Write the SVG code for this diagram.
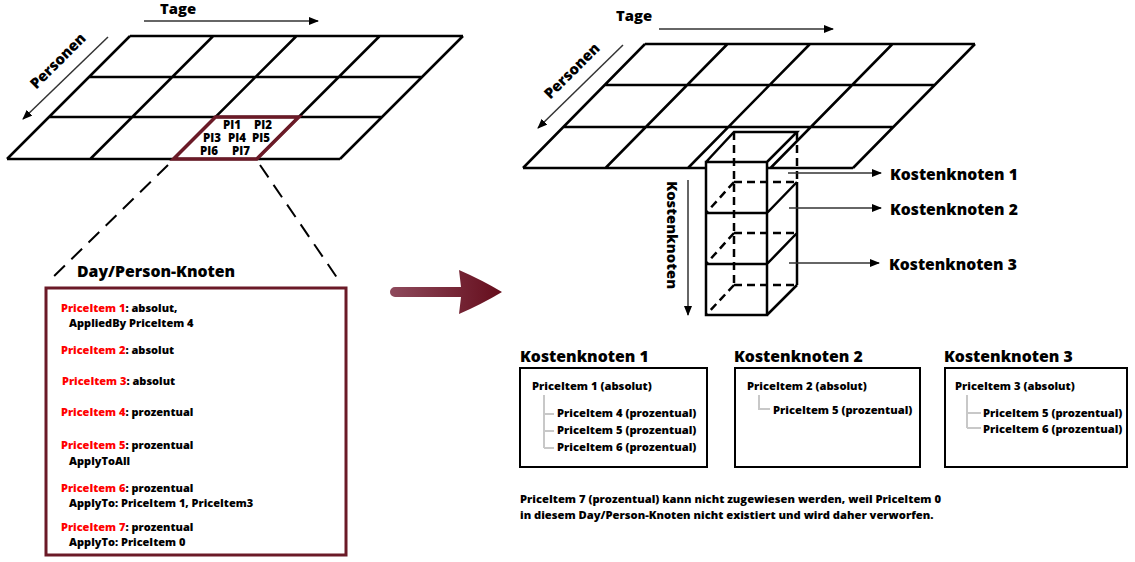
<svg xmlns="http://www.w3.org/2000/svg" width="1135" height="562" viewBox="0 0 1135 562">
<defs>
<style>
text{font-family:"Open Sans","DejaVu Sans",sans-serif;font-weight:800;fill:#000}
.grid{fill:none;stroke:#000;stroke-width:2.5;stroke-linejoin:miter}
.ax{fill:none;stroke:#333;stroke-width:1.5}
.lbl{font-size:14.8px}
.kl{font-size:15.7px}
.it{font-size:11px}
.pi{font-size:11.5px}
.red{fill:#ff0000}
.hd{font-size:15.8px}
.sm{font-size:11.2px}
.cube{fill:none;stroke:#000;stroke-width:2.5}
.dash{stroke-dasharray:8 5}
.tree{fill:none;stroke:#c8c8c8;stroke-width:2}
.zoomd{fill:none;stroke:#000;stroke-width:2;stroke-dasharray:15 9}
</style>
<marker id="ah" markerWidth="10" markerHeight="8" refX="9" refY="4" orient="auto" markerUnits="userSpaceOnUse">
<path d="M0,0 L10,4 L0,8 Z" fill="#000"/>
</marker>
<linearGradient id="bg" x1="0" y1="0" x2="1" y2="0">
<stop offset="0" stop-color="#8e4a5c"/>
<stop offset="1" stop-color="#650d1c"/>
</linearGradient>
</defs>
<rect width="1135" height="562" fill="#fff"/>

<g id="left-grid">
<path class="grid" d="M130,36 H463 M89,77 H422 M49,117 H382 M7,159 H340 M130,36 L7,159 M213.25,36 L90.25,159 M296.5,36 L173.5,159 M379.75,36 L256.75,159 M463,36 L340,159"/>
<path d="M215.5,117 H298.75 L256.75,159 H173.5 Z" fill="none" stroke="#6b1a27" stroke-width="3.5"/>
<text class="pi" x="223" y="129">PI1</text>
<text class="pi" x="254" y="129">PI2</text>
<text class="pi" x="203" y="142">PI3</text>
<text class="pi" x="228" y="142">PI4</text>
<text class="pi" x="252" y="142">PI5</text>
<text class="pi" x="200" y="155">PI6</text>
<text class="pi" x="232" y="155">PI7</text>
</g>

<g id="left-axes">
<text class="lbl" x="160" y="14">Tage</text>
<line class="ax" x1="144" y1="21" x2="318" y2="21" marker-end="url(#ah)"/>
<text class="lbl" text-anchor="middle" transform="translate(58,61) rotate(-45)" y="5">Personen</text>
<line class="ax" x1="108" y1="37" x2="23" y2="119" marker-end="url(#ah)"/>
</g>

<g id="zoom-lines">
<line class="zoomd" x1="168" y1="165" x2="48" y2="282"/>
<line class="zoomd" x1="260" y1="165" x2="340" y2="282"/>
</g>

<g id="day-person-node">
<text class="hd" x="77" y="277">Day/Person-Knoten</text>
<rect x="46" y="288" width="300" height="267" fill="none" stroke="#6b1a27" stroke-width="3"/>
<text class="it" x="61" y="312"><tspan class="red">PriceItem 1</tspan>: absolut,</text>
<text class="it" x="69" y="327">AppliedBy PriceItem 4</text>
<text class="it" x="61" y="354"><tspan class="red">PriceItem 2</tspan>: absolut</text>
<text class="it" x="62" y="385"><tspan class="red">PriceItem 3</tspan>: absolut</text>
<text class="it" x="61" y="416"><tspan class="red">PriceItem 4</tspan>: prozentual</text>
<text class="it" x="61" y="449"><tspan class="red">PriceItem 5</tspan>: prozentual</text>
<text class="it" x="69" y="465">ApplyToAll</text>
<text class="it" x="61" y="492"><tspan class="red">PriceItem 6</tspan>: prozentual</text>
<text class="it" x="69" y="507">ApplyTo: PriceItem 1, PriceItem3</text>
<text class="it" x="61" y="531"><tspan class="red">PriceItem 7</tspan>: prozentual</text>
<text class="it" x="69" y="546">ApplyTo: PriceItem 0</text>
</g>

<g id="big-arrow">
<path d="M395,287 H461 L459,270 Q482,280 502,292 Q482,304 459,314 L461,297 H395 A5,5 0 0 1 395,287 Z" fill="url(#bg)"/>
</g>

<g id="right-grid">
<path class="grid" d="M645,44 H975 M604.7,85 H934.7 M563.3,127 H893.3 M523,168 H853 M645,44 L523,168 M727.5,44 L605.5,168 M810,44 L688,168 M892.5,44 L770.5,168 M975,44 L853,168"/>
</g>

<g id="right-axes">
<text class="lbl" x="616" y="21">Tage</text>
<line class="ax" x1="659" y1="29" x2="833" y2="29" marker-end="url(#ah)"/>
<text class="lbl" text-anchor="middle" transform="translate(572,71) rotate(-45)" y="5">Personen</text>
<line class="ax" x1="623" y1="45" x2="538" y2="128" marker-end="url(#ah)"/>
<text class="lbl" text-anchor="middle" transform="translate(672,235) rotate(90)" y="5">Kostenknoten</text>
<line class="ax" x1="688" y1="180" x2="688" y2="315" marker-end="url(#ah)"/>
</g>

<g id="cube">
<rect x="706" y="162" width="61" height="153" fill="#fff" stroke="none"/>
<path class="cube dash" d="M734,132 V285 M734,182 H797 M734,233 H797 M734,285 H797 M734,182 L706,213 M734,233 L706,264 M734,285 L706,315 M797,132 V182"/>
<path class="cube" d="M706,162 H767 V315 H706 Z M706,213 H767 M706,264 H767 M706,162 L734,132 H797 L767,162 M797,182 V285 M767,213 L797,182 M767,264 L797,233 M767,315 L797,285"/>
</g>

<g id="cost-arrows">
<line class="ax" x1="788" y1="173" x2="881" y2="173" marker-end="url(#ah)"/>
<line class="ax" x1="789" y1="208" x2="881" y2="208" marker-end="url(#ah)"/>
<line class="ax" x1="789" y1="263" x2="879" y2="263" marker-end="url(#ah)"/>
<text class="kl" x="890" y="180">Kostenknoten 1</text>
<text class="kl" x="890" y="215">Kostenknoten 2</text>
<text class="kl" x="889" y="270">Kostenknoten 3</text>
</g>

<g id="kostenknoten-1">
<text class="hd" x="520" y="362">Kostenknoten 1</text>
<rect x="520" y="368" width="187" height="99" fill="none" stroke="#000" stroke-width="2"/>
<path class="tree" d="M544,395 V448 M544,414 H554 M544,431 H554 M544,448 H554"/>
<text class="sm" x="532" y="390">PriceItem 1 (absolut)</text>
<text class="sm" x="557" y="417">PriceItem 4 (prozentual)</text>
<text class="sm" x="557" y="434">PriceItem 5 (prozentual)</text>
<text class="sm" x="557" y="451">PriceItem 6 (prozentual)</text>
</g>

<g id="kostenknoten-2">
<text class="hd" x="734" y="362">Kostenknoten 2</text>
<rect x="735" y="368" width="185" height="99" fill="none" stroke="#000" stroke-width="2"/>
<path class="tree" d="M759,395 V409 H770"/>
<text class="sm" x="747" y="390">PriceItem 2 (absolut)</text>
<text class="sm" x="773" y="414">PriceItem 5 (prozentual)</text>
</g>

<g id="kostenknoten-3">
<text class="hd" x="944" y="362">Kostenknoten 3</text>
<rect x="945" y="368" width="182" height="99" fill="none" stroke="#000" stroke-width="2"/>
<path class="tree" d="M967,395 V428 M967,413 H981 M967,428 H981"/>
<text class="sm" x="955" y="390">PriceItem 3 (absolut)</text>
<text class="sm" x="983" y="417">PriceItem 5 (prozentual)</text>
<text class="sm" x="983" y="433">PriceItem 6 (prozentual)</text>
</g>

<g id="note">
<text class="sm" x="520" y="503">PriceItem 7 (prozentual) kann nicht zugewiesen werden, weil PriceItem 0</text>
<text class="sm" x="520" y="519">in diesem Day/Person-Knoten nicht existiert und wird daher verworfen.</text>
</g>
</svg>
